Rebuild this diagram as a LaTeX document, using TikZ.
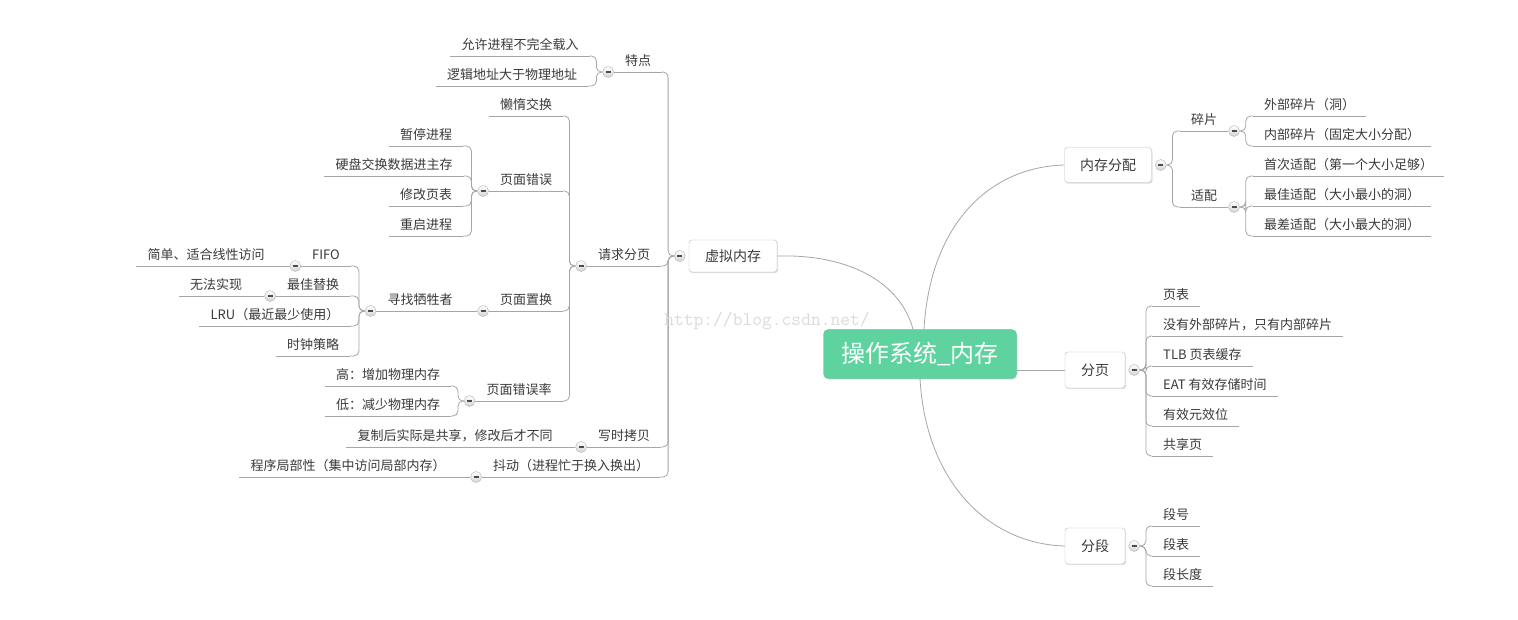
\documentclass[tikz,border=0pt]{standalone}
\usepackage{fontspec}
\setmainfont{Noto Sans CJK SC}
\usetikzlibrary{shadows,backgrounds}
\definecolor{lin}{HTML}{A6A6A6}
\definecolor{txt}{HTML}{3A3A3A}
\definecolor{rootg}{HTML}{5ED3A0}
\newcommand\mmL[2]{\draw[lc] (#1.west) -- ++(-6,0) |- (#2.south east);}
\newcommand\mmR[2]{\draw[lc] (#1.east) -- ++(6,0) |- (#2.south west);}
\begin{document}
\begin{tikzpicture}[x=1pt,y=-1pt,
  topic/.style={font=\fontsize{13}{15}\selectfont, text=txt, inner xsep=11pt, inner ysep=3pt, text height=10pt, text depth=3pt},
  tl/.style={topic, anchor=south},
  tr/.style={topic, anchor=south west},
  box/.style={draw=gray!50, fill=white, rounded corners=3pt, font=\fontsize{14}{16}\selectfont, text=txt,
     drop shadow={shadow xshift=1pt, shadow yshift=-1.2pt, opacity=0.25}},
  conn/.style={draw=lin, line width=0.8pt},
  lc/.style={conn, rounded corners=5pt},
  btn/.style={circle, draw=gray!60, inner sep=0pt, minimum size=11pt, top color=white, bottom color=gray!35,
     path picture={\draw[gray!60!black, line width=1.3pt] ([xshift=-2.6pt]path picture bounding box.center) -- ([xshift=2.6pt]path picture bounding box.center);}}
]
\useasboundingbox (0,0) rectangle (1518,620);

% watermark
\node[font=\ttfamily\fontsize{19}{19}\selectfont, text=gray!28, inner sep=0pt] (wm) at (767,321) {http://blog.csdn.net/};

% main boxes
\node[box, fill=rootg, draw=rootg!90!black, text=white, font=\fontsize{24}{26}\selectfont, minimum width=193pt, minimum height=49pt, rounded corners=5pt] (root) at (920,354) {操作系统\_内存};
\node[box, minimum width=88pt, minimum height=32pt] (vm) at (733,256) {虚拟内存};
\node[box, minimum width=87pt, minimum height=35pt] (nc) at (1108,165) {内存分配};
\node[box, minimum width=60pt, minimum height=36pt] (fy) at (1095,370) {分页};
\node[box, minimum width=60pt, minimum height=36pt] (fd) at (1095,546) {分段};

% left topics
\node[tl] (td) at (638,72) {特点};
\node[tl] (qq) at (624,266) {请求分页};
\node[tl] (xs) at (624,447) {写时拷贝};
\node[tl] (dd) at (571,477) {抖动（进程忙于换入换出）};
\node[tl] (a1) at (520,56) {允许进程不完全载入};
\node[tl] (a2) at (512,86) {逻辑地址大于物理地址};
\node[tl] (lh) at (526,116) {懒惰交换};
\node[tl] (ye) at (526,191) {页面错误};
\node[tl] (zh) at (526,311) {页面置换};
\node[tl] (ycl) at (519,401) {页面错误率};
\node[tl] (e1) at (426,146) {暂停进程};
\node[tl] (e2) at (394,176) {硬盘交换数据进主存};
\node[tl] (e3) at (426,206) {修改页表};
\node[tl] (e4) at (426,236) {重启进程};
\node[tl] (xz) at (420,311) {寻找牺牲者};
\node[tl] (f1) at (326,266) {FIFO};
\node[tl] (f2) at (313,296) {最佳替换};
\node[tl] (f3) at (275,326) {LRU（最近最少使用）};
\node[tl] (f4) at (313,356) {时钟策略};
\node[tl] (g1) at (206,266) {简单、适合线性访问};
\node[tl] (g2) at (216,296) {无法实现};
\node[tl] (h1) at (388,386) {高：增加物理内存};
\node[tl] (h2) at (388,416) {低：减少物理内存};
\node[tl] (c1) at (455,447) {复制后实际是共享，修改后才不同};
\node[tl] (d1) at (348,477) {程序局部性（集中访问局部内存）};

% right topics
\node[tr] (sp) at (1180,131) {碎片};
\node[tr] (sh) at (1180,207) {适配};
\node[tr] (r1) at (1253,116) {外部碎片（洞）};
\node[tr] (r2) at (1253,146) {内部碎片（固定大小分配）};
\node[tr] (r3) at (1253,176) {首次适配（第一个大小足够）};
\node[tr] (r4) at (1253,206) {最佳适配（大小最小的洞）};
\node[tr] (r5) at (1253,236) {最差适配（大小最大的洞）};
\node[tr] (p1) at (1152,306) {页表};
\node[tr] (p2) at (1152,336) {没有外部碎片，只有内部碎片};
\node[tr] (p3) at (1152,366) {TLB 页表缓存};
\node[tr] (p4) at (1152,396) {EAT 有效存储时间};
\node[tr] (p5) at (1152,426) {有效元效位};
\node[tr] (p6) at (1152,456) {共享页};
\node[tr] (s1) at (1152,526) {段号};
\node[tr] (s2) at (1152,556) {段表};
\node[tr] (s3) at (1152,586) {段长度};

% buttons
\node[btn] (b0) at ([xshift=-9pt]vm.west) {};
\node[btn] (b1) at ([xshift=9pt]nc.east) {};
\node[btn] (b2) at ([xshift=9pt]fy.east) {};
\node[btn] (b3) at ([xshift=9pt]fd.east) {};
\foreach \n in {td,qq,xs,dd,ye,zh,ycl,xz,f1,f2}
  \node[btn, anchor=east] (b\n) at (\n.south west) {};
\foreach \n in {sp,sh}
  \node[btn, anchor=west] (b\n) at (\n.south east) {};

\begin{scope}[on background layer]
  \fill[white] (0,0) rectangle (1518,620);
  % underlines
  \foreach \n in {td,qq,xs,dd,a1,a2,lh,ye,zh,ycl,e1,e2,e3,e4,xz,f1,f2,f3,f4,g1,g2,h1,h2,c1,d1,
                  sp,sh,r1,r2,r3,r4,r5,p1,p2,p3,p4,p5,p6,s1,s2,s3}
    \draw[conn] (\n.south west) -- (\n.south east);
  % root connectors
  \draw[conn] (vm.east) .. controls +(75,-2) and +(-12,-45) .. ([xshift=-7pt]root.north);
  \draw[conn] ([xshift=4pt]root.north) .. controls +(6,-105) and +(-75,2) .. (nc.west);
  \draw[conn] (root.east |- fy.west) -- (fy.west);
  \draw[conn] (root.south) .. controls +(6,105) and +(-75,-2) .. (fd.west);
  % left tree
  \mmL{b0}{td} \mmL{b0}{qq} \mmL{b0}{xs} \mmL{b0}{dd}
  \mmL{btd}{a1} \mmL{btd}{a2}
  \mmL{bqq}{lh} \mmL{bqq}{ye} \mmL{bqq}{zh} \mmL{bqq}{ycl}
  \mmL{bye}{e1} \mmL{bye}{e2} \mmL{bye}{e3} \mmL{bye}{e4}
  \draw[conn] (bzh.west) -- (xz.south east);
  \mmL{bxz}{f1} \mmL{bxz}{f2} \mmL{bxz}{f3} \mmL{bxz}{f4}
  \draw[conn] (bf1.west) -- (g1.south east);
  \draw[conn] (bf2.west) -- (g2.south east);
  \mmL{bycl}{h1} \mmL{bycl}{h2}
  \draw[conn] (bxs.west) -- (c1.south east);
  \draw[conn] (bdd.west) -- (d1.south east);
  % right tree
  \mmR{b1}{sp} \mmR{b1}{sh}
  \mmR{bsp}{r1} \mmR{bsp}{r2}
  \mmR{bsh}{r3} \mmR{bsh}{r4} \mmR{bsh}{r5}
  \mmR{b2}{p1} \mmR{b2}{p2} \mmR{b2}{p3} \mmR{b2}{p4} \mmR{b2}{p5} \mmR{b2}{p6}
  \mmR{b3}{s1} \mmR{b3}{s2} \mmR{b3}{s3}
\end{scope}
\end{tikzpicture}
\end{document}
